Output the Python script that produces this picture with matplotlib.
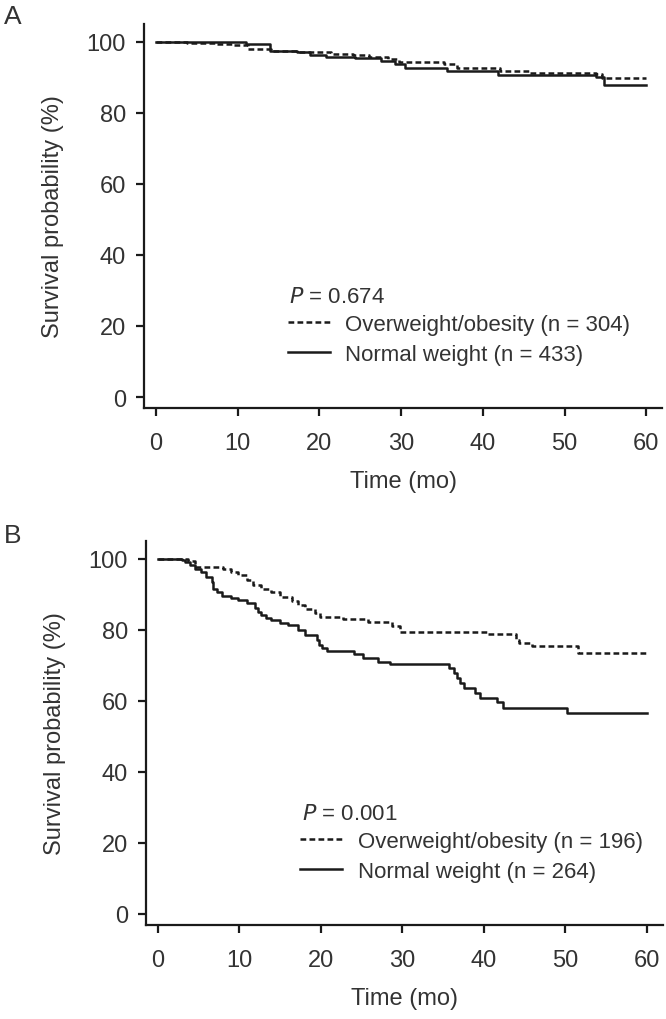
import matplotlib.pyplot as plt

plt.rcParams['font.family'] = ['Liberation Sans', 'DejaVu Sans']

# Panel A: survival (%)
a_over_t = [0, 3.8, 7.3, 9.3, 11.2, 14.1, 17.3, 19.8, 21.4, 24.1, 26.1, 28.4, 29.8,
            35.2, 36.8, 42.1, 45.6, 53.8, 54.6, 60]
a_over_s = [100, 99.6, 99.3, 99.1, 97.9, 97.5, 97.2, 97.0, 96.6, 96.2, 95.8, 95.1, 94.2,
            93.7, 92.7, 91.8, 91.3, 90.8, 89.9, 89.9]
a_norm_t = [0, 11.0, 13.9, 17.3, 18.8, 20.8, 24.3, 27.6, 29.2, 30.5, 35.6, 41.9, 53.8, 54.8, 60]
a_norm_s = [100, 99.5, 97.5, 97.0, 96.3, 95.8, 95.4, 94.6, 93.7, 92.5, 91.8, 90.6, 90.2, 87.7, 87.7]

# Panel B
b_over_t = [0, 3.7, 4.5, 8.0, 9.0, 9.8, 10.9, 11.7, 12.7, 13.9, 15.0, 16.4, 17.2, 18.0,
            19.3, 19.9, 22.7, 25.8, 28.7, 29.7, 40.4, 43.9, 44.3, 45.9, 51.6, 60]
b_over_s = [100, 99.3, 97.7, 97.2, 96.3, 95.3, 93.9, 92.7, 91.6, 90.7, 89.3, 88.0, 86.9, 85.8,
            84.6, 83.6, 82.9, 82.2, 81.1, 79.4, 78.7, 77.1, 76.2, 75.4, 73.4, 73.4]
b_norm_t = [0, 2.9, 3.3, 3.9, 4.5, 5.3, 5.9, 6.6, 6.8, 7.2, 7.8, 9.0, 9.8, 10.9, 11.9, 12.3,
            12.7, 13.3, 13.9, 15.0, 16.0, 17.2, 18.0, 19.5, 19.7, 20.1, 20.7, 24.0, 25.2, 27.0,
            28.5, 35.7, 36.3, 36.7, 37.1, 37.5, 38.9, 39.5, 41.6, 42.4, 50.2, 60]
b_norm_s = [100, 99.5, 99.1, 98.1, 97.2, 96.3, 94.9, 93.5, 91.6, 90.7, 89.5, 88.8, 88.3, 87.4,
            86.0, 85.0, 84.1, 83.4, 82.7, 81.8, 81.3, 79.9, 78.5, 77.1, 75.7, 74.8, 74.0, 73.1,
            72.0, 71.0, 70.3, 69.2, 67.8, 66.4, 65.0, 63.6, 62.1, 60.9, 59.8, 57.9, 56.5, 56.5]

xticks = [0, 10, 20, 30, 40, 50, 60]
yticks = [0, 20, 40, 60, 80, 100]

panels = [
    ('A', a_over_t, a_over_s, a_norm_t, a_norm_s, '0.674', 304, 433,
     [0.2162, 0.599, 0.778, 0.3765], 0.9765, 0.0),
    ('B', b_over_t, b_over_s, b_norm_t, b_norm_s, '0.001', 196, 264,
     [0.2192, 0.0922, 0.776, 0.3765], 0.4676, 0.021),
]

txt = '#333333'
ink = '#1a1a1a'

fig = plt.figure(figsize=(6.66, 10.2), dpi=100)

for letter, ot, os_, nt, ns, p, n_over, n_norm, rect, ly, dx in panels:
    ax = fig.add_axes(rect)
    ax.step(ot, os_, where='post', color=ink, lw=1.8, ls=(0, (2.3, 1.3)),
            label='Overweight/obesity (n = %d)' % n_over)
    ax.step(nt, ns, where='post', color=ink, lw=1.8,
            label='Normal weight (n = %d)' % n_norm)
    ax.set_xlim(-1.47, 61.95)
    ax.set_ylim(-3.1, 105.0)
    ax.set_xticks(xticks)
    ax.set_yticks(yticks)
    for s in ['top', 'right']:
        ax.spines[s].set_visible(False)
    for s in ['left', 'bottom']:
        ax.spines[s].set_linewidth(1.6)
        ax.spines[s].set_color(ink)
    ax.tick_params(length=6, width=1.6, color=ink, labelsize=17, labelcolor=txt)
    ax.tick_params(axis='x', pad=11)
    ax.tick_params(axis='y', pad=7)
    ax.set_xlabel('Time (mo)', fontsize=17, color=txt, labelpad=12)
    ax.set_ylabel('Survival probability (%)', fontsize=17, color=txt, labelpad=16)
    ax.text(0.280 + dx, 0.276, r'$\it{P}$ = ' + p, transform=ax.transAxes, fontsize=16,
            color=txt, va='baseline')
    ax.legend(loc='upper left', bbox_to_anchor=(0.26 + dx, 0.268), frameon=False, fontsize=16,
              handlelength=1.9, handletextpad=0.7, labelspacing=0.4, labelcolor=txt,
              borderaxespad=0)
    fig.text(0.006, ly, letter, fontsize=19, color=txt, va='baseline')

fig.savefig('out.png', dpi=100)
